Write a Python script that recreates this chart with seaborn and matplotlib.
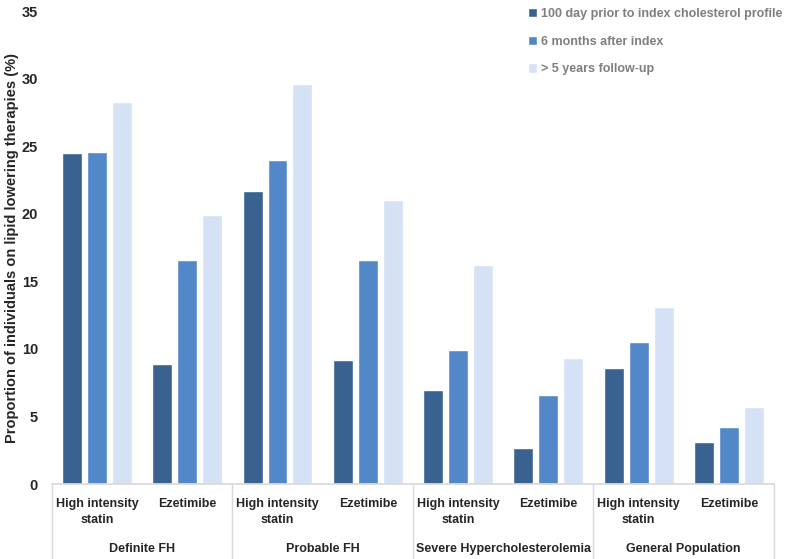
import numpy as np
import pandas as pd
import seaborn as sns
import matplotlib.pyplot as plt
import matplotlib.transforms as mtransforms

groups = ["Definite FH", "Probable FH", "Severe Hypercholesterolemia", "General Population"]
therapies = ["High intensity\nstatin", "Ezetimibe"]
series = ["100 day prior to index cholesterol profile", "6 months after index", "> 5 years follow-up"]

prior_100d = [24.5, 8.9, 21.7, 9.2, 7.0, 2.7, 8.6, 3.1]
after_6m = [24.6, 16.6, 24.0, 16.6, 9.9, 6.6, 10.5, 4.2]
followup_5y = [28.3, 19.9, 29.6, 21.0, 16.2, 9.3, 13.1, 5.7]

colors = ["#3A6291", "#5288C8", "#D5E2F6"]

cats = [f"{g}|{t}" for g in groups for t in therapies]
rows = []
for name, vals in zip(series, [prior_100d, after_6m, followup_5y]):
    for c, v in zip(cats, vals):
        rows.append({"cat": c, "series": name, "value": v})
df = pd.DataFrame(rows)

sns.set_theme(style="white")
plt.rcParams["font.family"] = ["Liberation Sans", "DejaVu Sans"]
plt.rcParams["font.weight"] = "bold"

fig = plt.figure(figsize=(7.85, 5.59), dpi=100)
ax = fig.add_axes([0.066, 0.134, 0.92, 0.846])

sns.barplot(data=df, x="cat", y="value", hue="series", order=cats, hue_order=series,
            palette=colors, width=0.83, gap=0.2, saturation=1, ax=ax)

fs = 9
ax.set_ylim(0, 35)
ax.set_xlim(-0.5, len(cats) - 0.5)
ax.set_yticks(range(0, 36, 5))
ax.set_yticklabels([str(v) for v in range(0, 36, 5)], fontsize=10.5, fontweight="bold")
ax.set_xticks(range(len(cats)))
ax.set_xticklabels([c.split("|")[1] for c in cats], fontsize=fs, fontweight="bold",
                   va="top", linespacing=1.45)
ax.tick_params(axis="x", length=0, pad=10)
ax.tick_params(axis="y", length=0, pad=10)
ax.set_xlabel("")
ax.set_ylabel("Proportion of individuals on lipid lowering therapies (%)",
              fontsize=10.5, fontweight="bold", labelpad=2)

for s in ["top", "right", "left"]:
    ax.spines[s].set_visible(False)
ax.spines["bottom"].set_color("#D9D9D9")

# group separators and group labels below the axis
trans = mtransforms.blended_transform_factory(ax.transData, ax.transAxes)
for i in range(len(groups) + 1):
    x = i * 2 - 0.5
    ax.plot([x, x], [0, -0.16], color="#D9D9D9", lw=1, transform=trans, clip_on=False)
for i, g in enumerate(groups):
    ax.text(i * 2 + 0.5, -0.137, g, transform=trans, ha="center", va="center",
            fontsize=fs, fontweight="bold")

leg = ax.legend(loc="upper left", bbox_to_anchor=(0.652, 1.017), frameon=False,
                prop={"weight": "bold", "size": fs},
                labelspacing=1.25, handlelength=0.75, handleheight=0.75,
                handletextpad=0.35, borderaxespad=0)
for t in leg.get_texts():
    t.set_color("#7F7F7F")

fig.savefig("out.png", dpi=100)
plt.close(fig)
